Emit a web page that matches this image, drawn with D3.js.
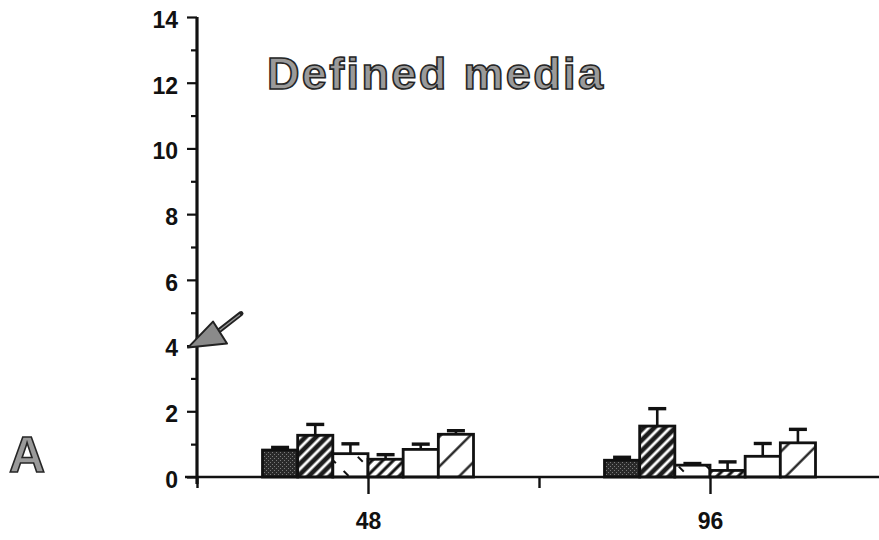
<!DOCTYPE html>
<html>
<head>
<meta charset="utf-8">
<script src="https://cdn.jsdelivr.net/npm/d3@7/dist/d3.min.js"></script>
<style>
  html, body { margin: 0; padding: 0; background: #fff; }
  svg { display: block; }
</style>
</head>
<body>
<svg id="chart" width="879" height="540"></svg>
<script>
// Sampling times (h) and the six treatment series drawn at each time
const times = [48, 96];
const series = ["solid", "denseHatch", "dashHatch", "fineHatch", "open", "wideHatch"];

// Bar heights (means) and upward error bars for each time point
const means48 = [0.82, 1.27, 0.71, 0.54, 0.84, 1.30];
const errs48  = [0.08, 0.33, 0.30, 0.14, 0.16, 0.11];
const means96 = [0.51, 1.55, 0.36, 0.20, 0.63, 1.04];
const errs96  = [0.09, 0.53, 0.05, 0.26, 0.39, 0.41];

// Axis ticks
const yMajorTicks = [0, 2, 4, 6, 8, 10, 12, 14];
const yMinorTicks = [1, 3, 5, 7, 9, 11, 13];
const xTicks = [24, 48, 72, 96];
const xTickLabels = ["", "48", "", "96"];

// Reference level marked by the arrow on the y axis
const markerValue = 4;

const titleText = "Defined media";
const panelLetter = "A";

const svg = d3.select("#chart");

const y = d3.scaleLinear().domain([0, 14]).range([477, 17]);
const x = d3.scaleLinear().domain([24, 96]).range([197, 710]);
const groupWidth = 211;
const inner = d3.scaleBand().domain(series).range([-groupWidth / 2, groupWidth / 2]).padding(0);

const rows = [];
times.forEach((t, ti) => {
  const m = ti === 0 ? means48 : means96;
  const e = ti === 0 ? errs48 : errs96;
  series.forEach((s, si) => rows.push({ time: t, key: s, mean: m[si], err: e[si] }));
});

// ---- fill patterns ----
const defs = svg.append("defs");

function stipple(id, bg, dot) {
  const p = defs.append("pattern").attr("id", id)
    .attr("patternUnits", "userSpaceOnUse").attr("width", 4).attr("height", 4);
  p.append("rect").attr("width", 4).attr("height", 4).attr("fill", bg);
  p.append("rect").attr("x", 0).attr("y", 0).attr("width", 1).attr("height", 1).attr("fill", dot);
  p.append("rect").attr("x", 2).attr("y", 2).attr("width", 1).attr("height", 1).attr("fill", dot);
}
stipple("p-solid", "#2a2a2a", "#7a7a7a");

function hatch(id, period, bg, lineColor, lineWidth, angle, dash) {
  const h = dash ? 18 : period;
  const p = defs.append("pattern").attr("id", id)
    .attr("patternUnits", "userSpaceOnUse")
    .attr("width", period).attr("height", h)
    .attr("patternTransform", `rotate(${angle})`);
  p.append("rect").attr("width", period).attr("height", h).attr("fill", bg);
  const l = p.append("line")
    .attr("x1", period / 2).attr("x2", period / 2)
    .attr("y1", 0).attr("y2", h)
    .attr("stroke", lineColor).attr("stroke-width", lineWidth);
  if (dash) l.attr("stroke-dasharray", dash);
}
hatch("p-dense", 7.5, "#1c1c1c", "#ffffff", 2.8, 45);
hatch("p-fine", 7.5, "#ffffff", "#111111", 3, 45);
hatch("p-wide", 21, "#ffffff", "#111111", 2.2, 45);
hatch("p-dash", 20, "#ffffff", "#111111", 2, -45, "7 11");

const fills = {
  solid: "url(#p-solid)",
  denseHatch: "url(#p-dense)",
  dashHatch: "url(#p-dash)",
  fineHatch: "url(#p-fine)",
  open: "#ffffff",
  wideHatch: "url(#p-wide)"
};

// ---- error bars (upward only) ----
const eb = svg.append("g").attr("stroke", "#111").attr("stroke-width", 2.6);
rows.forEach(d => {
  const cx = x(d.time) + inner(d.key) + inner.bandwidth() / 2;
  eb.append("line").attr("x1", cx).attr("x2", cx)
    .attr("y1", y(d.mean)).attr("y2", y(d.mean + d.err));
  eb.append("line").attr("x1", cx - 9).attr("x2", cx + 9)
    .attr("y1", y(d.mean + d.err)).attr("y2", y(d.mean + d.err))
    .attr("stroke-width", 3.4);
});

// ---- bars ----
svg.append("g").selectAll("rect").data(rows).join("rect")
  .attr("x", d => x(d.time) + inner(d.key))
  .attr("y", d => y(d.mean))
  .attr("width", inner.bandwidth())
  .attr("height", d => y(0) - y(d.mean))
  .attr("fill", d => fills[d.key])
  .attr("stroke", "#111")
  .attr("stroke-width", 2.8);

// ---- y axis ----
const font = "'Liberation Sans', Arial, Helvetica, sans-serif";

const yMajor = svg.append("g").attr("transform", `translate(${x(24)},0)`)
  .call(d3.axisLeft(y).tickValues(yMajorTicks).tickSize(10).tickSizeOuter(0));
const yMinor = svg.append("g").attr("transform", `translate(${x(24)},0)`)
  .call(d3.axisLeft(y).tickValues(yMinorTicks).tickSize(6).tickSizeOuter(0).tickFormat(""));
[yMajor, yMinor].forEach(g => {
  g.select(".domain").remove();
  g.selectAll(".tick line").attr("stroke", "#111").attr("stroke-width", 2.2);
});
yMajor.selectAll(".tick text")
  .attr("font-family", font).attr("font-size", 23).attr("font-weight", "bold")
  .attr("fill", "#111").attr("dy", "0.45em").attr("x", -19);

svg.append("line")
  .attr("x1", x(24)).attr("x2", x(24))
  .attr("y1", y(14)).attr("y2", y(0) + 7)
  .attr("stroke", "#111").attr("stroke-width", 3.2);

// ---- x axis ----
const xAxis = svg.append("g").attr("transform", `translate(0,${y(0)})`)
  .call(d3.axisBottom(x).tickValues(xTicks).tickSizeOuter(0)
    .tickFormat((d, i) => xTickLabels[i]));
xAxis.select(".domain").remove();
xAxis.selectAll(".tick line")
  .attr("stroke", "#111").attr("stroke-width", 2.4)
  .attr("y2", (d, i) => xTickLabels[i] ? 17 : 11);
xAxis.selectAll(".tick text")
  .attr("font-family", font).attr("font-size", 23).attr("font-weight", "bold")
  .attr("fill", "#111").attr("y", 52).attr("dy", 0);

svg.append("line")
  .attr("x1", x(24) - 12).attr("x2", 879)
  .attr("y1", y(0)).attr("y2", y(0))
  .attr("stroke", "#111").attr("stroke-width", 2.6);

// ---- arrow pointing at the marker level ----
const tipX = x(24) - 9, tipY = y(markerValue) + 2;
const arrow = svg.append("g");
arrow.append("line")
  .attr("x1", tipX + 30).attr("y1", tipY - 16)
  .attr("x2", tipX + 53).attr("y2", tipY - 34)
  .attr("stroke", "#222").attr("stroke-width", 5).attr("stroke-linecap", "round");
arrow.append("line")
  .attr("x1", tipX + 30).attr("y1", tipY - 16)
  .attr("x2", tipX + 52).attr("y2", tipY - 33)
  .attr("stroke", "#999").attr("stroke-width", 1.3);
arrow.append("path")
  .attr("d", `M${tipX},${tipY} L${tipX + 25},${tipY - 26} L${tipX + 39},${tipY - 4} Z`)
  .attr("fill", "#8a8a8a").attr("stroke", "#222").attr("stroke-width", 2)
  .attr("stroke-linejoin", "round");

// ---- title and panel letter (outlined lettering) ----
svg.append("text")
  .attr("x", 267).attr("y", 89)
  .attr("font-family", font).attr("font-size", 45).attr("font-weight", "bold")
  .attr("textLength", 336).attr("lengthAdjust", "spacing")
  .attr("fill", "#9a9a9a").attr("stroke", "#262626").attr("stroke-width", 1.6)
  .text(titleText);

svg.append("text")
  .attr("x", 27).attr("y", 472).attr("text-anchor", "middle")
  .attr("font-family", font).attr("font-size", 50).attr("font-weight", "bold")
  .attr("fill", "#9a9a9a").attr("stroke", "#262626").attr("stroke-width", 1.6)
  .text(panelLetter);
</script>
</body>
</html>
